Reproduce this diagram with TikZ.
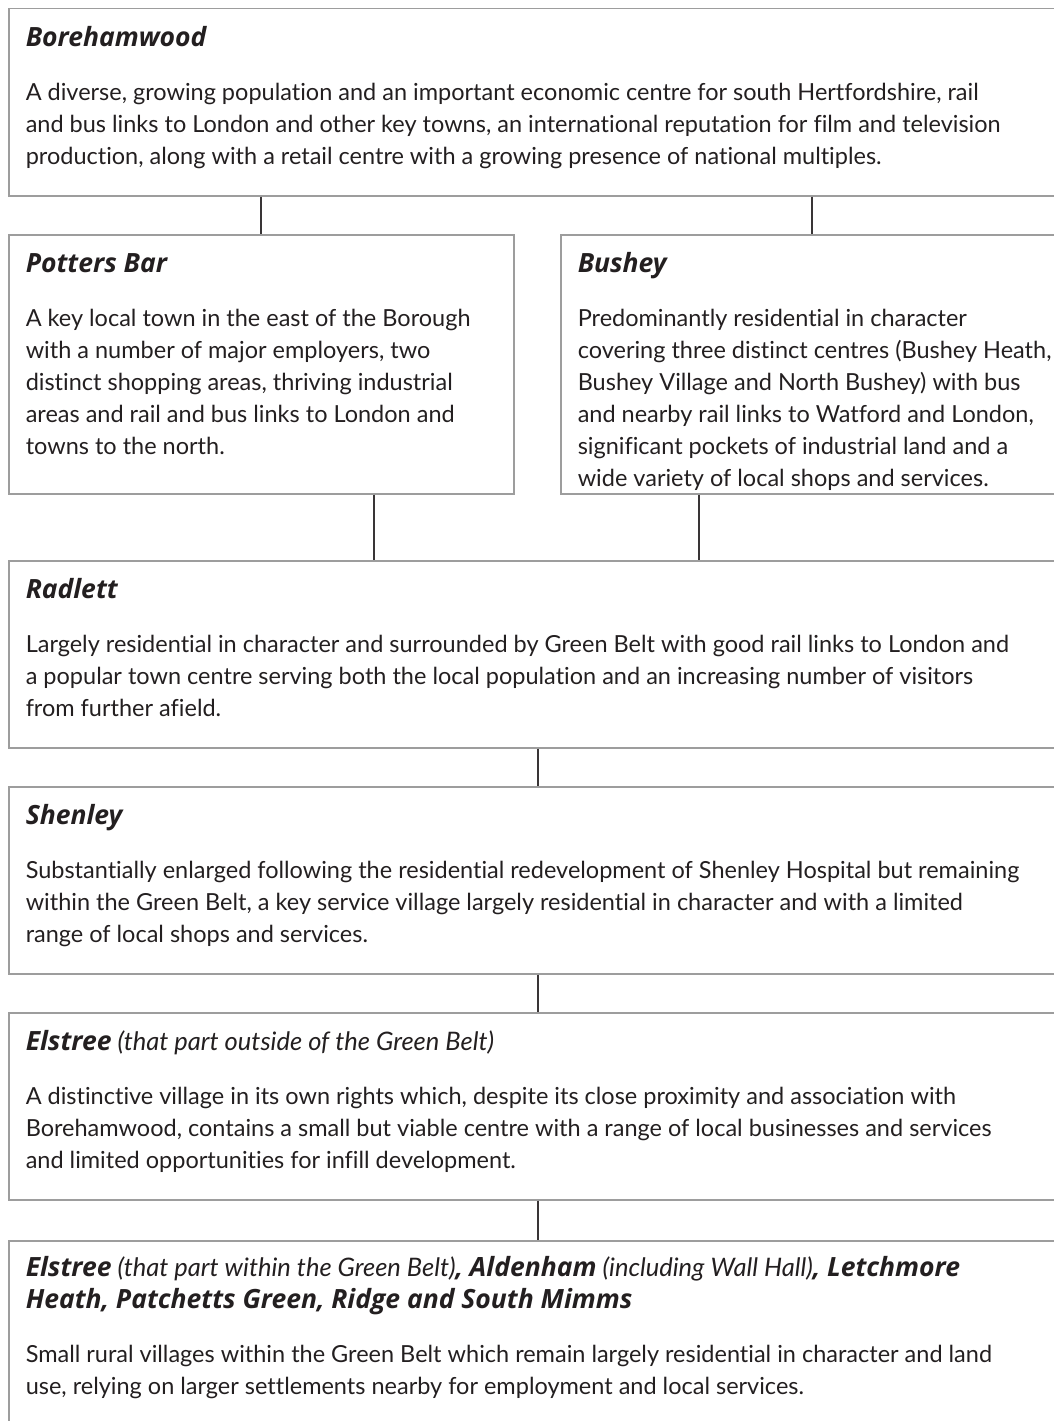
\documentclass[tikz,border=0pt]{standalone}
\usepackage{fontspec}
\setmainfont{Lato}[Ligatures=CommonOff]
\newfontfamily\headfont{Open Sans}
\usepackage{tikz}
\usepackage{xcolor}

\definecolor{boxgray}{HTML}{9D9D9D}
\definecolor{inkgray}{HTML}{231F20}
\newcommand{\placename}[1]{{\headfont\fontsize{26.5}{32}\selectfont\bfseries\itshape #1}}
\newcommand{\placenote}[1]{{\fontsize{25.5}{32}\selectfont\itshape #1}}
\newcommand{\headline}{\rule{0pt}{38pt}}

\begin{document}
\begin{tikzpicture}[
  x=1pt, y=-1pt,
  townbox/.style={draw=boxgray, line width=1.5pt, anchor=north west, inner xsep=17pt, inner ysep=0pt,
    align=left, text=inkgray, font=\fontsize{23.5}{32}\selectfont},
  link/.style={draw=inkgray!90, line width=1.2pt},
]
\useasboundingbox (0,0) rectangle (1054,1421);
\clip (0,0) rectangle (1054,1421);
\node[townbox] (bore) at (8,8) {\parbox[t][187pt][t]{1030pt}{\headline\placename{Borehamwood}\par\vspace{22pt}
  A diverse, growing population and an important economic centre for south Hertfordshire, rail\\
  and bus links to London and other key towns, an international reputation for film and television\\
  production, along with a retail centre with a growing presence of national multiples.}};
\node[townbox] (potters) at (8,234) {\parbox[t][259pt][t]{471pt}{\headline\placename{Potters Bar}\par\vspace{22pt}
  A key local town in the east of the Borough\\
  with a number of major employers, two\\
  distinct shopping areas, thriving industrial\\
  areas and rail and bus links to London and\\
  towns to the north.}};
\node[townbox] (bushey) at (560,234) {\parbox[t][259pt][t]{478pt}{\headline\placename{Bushey}\par\vspace{22pt}
  Predominantly residential in character\\
  covering three distinct centres (Bushey Heath,\\
  Bushey Village and North Bushey) with bus\\
  and nearby rail links to Watford and London,\\
  significant pockets of industrial land and a\\
  wide variety of local shops and services.}};
\node[townbox] (radlett) at (8,560) {\parbox[t][187pt][t]{1030pt}{\headline\placename{Radlett}\par\vspace{22pt}
  Largely residential in character and surrounded by Green Belt with good rail links to London and\\
  a popular town centre serving both the local population and an increasing number of visitors\\
  from further afield.}};
\node[townbox] (shenley) at (8,786) {\parbox[t][187pt][t]{1030pt}{\headline\placename{Shenley}\par\vspace{22pt}
  Substantially enlarged following the residential redevelopment of Shenley Hospital but remaining\\
  within the Green Belt, a key service village largely residential in character and with a limited\\
  range of local shops and services.}};
\node[townbox] (elstreeout) at (8,1012) {\parbox[t][187pt][t]{1030pt}{\headline\placename{Elstree} \placenote{(that part outside of the Green Belt)}\par\vspace{22pt}
  A distinctive village in its own rights which, despite its close proximity and association with\\
  Borehamwood, contains a small but viable centre with a range of local businesses and services\\
  and limited opportunities for infill development.}};
\node[townbox] (villages) at (8,1240) {\parbox[t][200pt][t]{1030pt}{\rule{0pt}{36pt}\placename{Elstree} \placenote{(that part within the Green Belt)}\placename{, Aldenham} \placenote{(including Wall Hall)}\placename{, Letchmore}\\
  \placename{Heath, Patchetts Green, Ridge and South Mimms}\par\vspace{22pt}
  Small rural villages within the Green Belt which remain largely residential in character and land\\
  use, relying on larger settlements nearby for employment and local services.}};
% connectors
\draw[link] ([xshift=253pt]bore.south west) -- ([xshift=253pt]potters.north west);
\draw[link] ([xshift=804pt]bore.south west) -- ([xshift=252pt]bushey.north west);
\draw[link] ([xshift=366pt]potters.south west) -- ([xshift=366pt]radlett.north west);
\draw[link] ([xshift=139pt]bushey.south west) -- ([xshift=691pt]radlett.north west);
\draw[link] ([xshift=530pt]radlett.south west) -- ([xshift=530pt]shenley.north west);
\draw[link] ([xshift=530pt]shenley.south west) -- ([xshift=530pt]elstreeout.north west);
\draw[link] ([xshift=530pt]elstreeout.south west) -- ([xshift=530pt]villages.north west);
\end{tikzpicture}
\end{document}
